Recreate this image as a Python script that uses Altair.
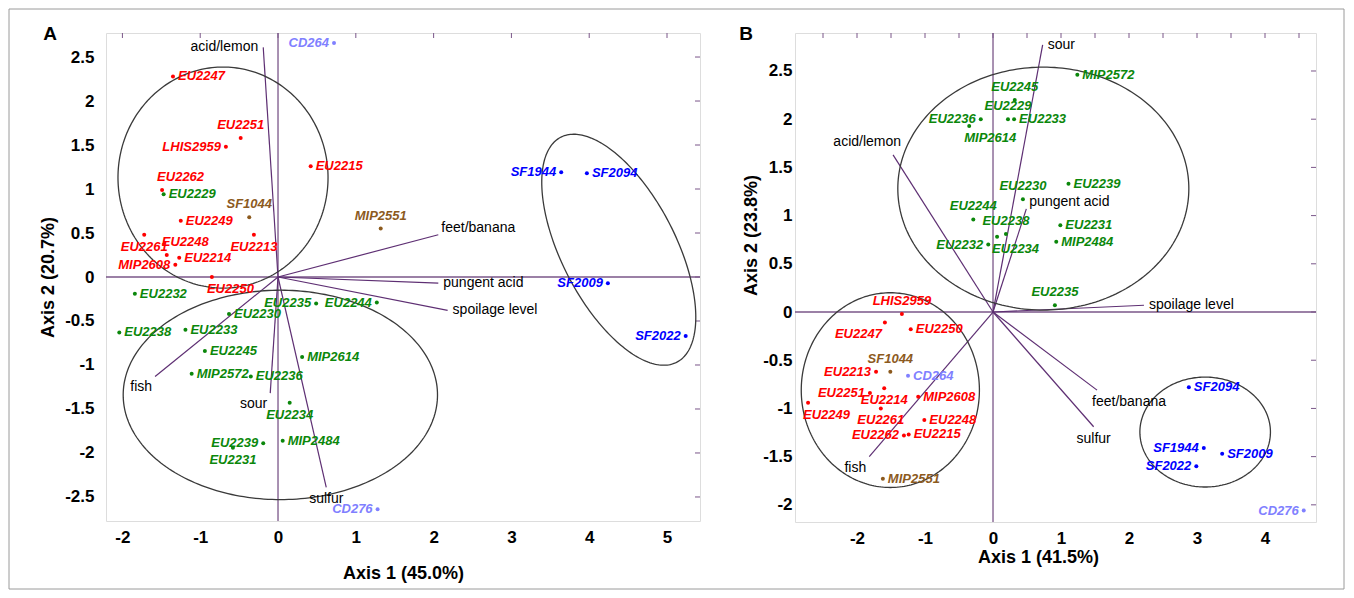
import altair as alt
import pandas as pd
import numpy as np

# ---------------- Panel A data ----------------
a_names = ["EU2247", "EU2251", "LHIS2959", "EU2262", "EU2229", "SF1044", "EU2249", "EU2261",
           "EU2213", "EU2248", "EU2214", "MIP2608", "EU2250", "EU2215", "CD264", "MIP2551",
           "SF1944", "SF2094", "SF2009", "SF2022", "CD276", "EU2232", "EU2238", "EU2233",
           "EU2230", "EU2245", "MIP2572", "EU2236", "EU2234", "EU2239", "EU2231", "MIP2484",
           "EU2235", "EU2244", "MIP2614"]
a_x = [-1.35, -0.48, -0.67, -1.49, -1.47, -0.37, -1.25, -1.72,
       -0.31, -1.43, -1.27, -1.32, -0.85, 0.42, 0.72, 1.32,
       3.64, 3.97, 4.24, 5.24, 1.28, -1.84, -2.04, -1.19,
       -0.63, -0.94, -1.11, -0.35, 0.15, -0.19, -0.58, 0.06,
       0.49, 1.27, 0.31]
a_y = [2.28, 1.58, 1.48, 0.99, 0.94, 0.68, 0.64, 0.48,
       0.48, 0.25, 0.22, 0.14, 0.00, 1.26, 2.66, 0.55,
       1.19, 1.18, -0.07, -0.67, -2.64, -0.19, -0.63, -0.60,
       -0.42, -0.84, -1.10, -1.13, -1.43, -1.89, -1.94, -1.86,
       -0.30, -0.29, -0.91]
a_grp = ["red", "red", "red", "red", "green", "brown", "red", "red",
         "red", "red", "red", "red", "red", "red", "lblue", "brown",
         "blue", "blue", "blue", "blue", "lblue", "green", "green", "green",
         "green", "green", "green", "green", "green", "green", "green", "green",
         "green", "green", "green"]
a_pos = ["r", "a", "l", "ar", "r", "a", "r", "b",
         "b", "ar", "r", "l", "br", "r", "l", "a",
         "l", "r", "l", "l", "l", "r", "r", "r",
         "r", "r", "r", "r", "b", "l", "b", "r",
         "l", "l", "r"]

a_vec_names = ["acid/lemon", "feet/banana", "pungent acid", "spoilage level", "fish", "sour", "sulfur"]
a_vec_x = [-0.19, 2.06, 2.06, 2.18, -1.58, -0.10, 0.62]
a_vec_y = [2.61, 0.48, -0.07, -0.38, -1.13, -1.32, -2.39]
a_vec_pos = ["l", "ru", "r", "r", "bl", "bl", "b"]

# ellipses: centre x, centre y, var x, var y, cov xy (data units)
a_ell = [(-0.707, 1.13, 1.35 ** 2, 1.256 ** 2, 0.0),
         (0.03, -1.34, 2.02 ** 2, 1.19 ** 2, 0.0),
         (4.38, 0.31, 0.980, 1.723, -0.759)]

a_xticks = [-2, -1, 0, 1, 2, 3, 4, 5]
a_yticks = [-2.5, -2, -1.5, -1, -0.5, 0, 0.5, 1, 1.5, 2, 2.5]

# ---------------- Panel B data ----------------
b_names = ["EU2245", "EU2236", "EU2229", "EU2233", "MIP2614", "MIP2572", "EU2239", "EU2230",
           "EU2231", "MIP2484", "EU2244", "EU2238", "EU2234", "EU2232", "EU2235", "LHIS2959",
           "EU2247", "EU2250", "SF1044", "EU2213", "CD264", "EU2251", "EU2214", "MIP2608",
           "EU2249", "EU2261", "EU2248", "EU2262", "EU2215", "MIP2551", "SF2094", "SF1944",
           "SF2009", "SF2022", "CD276"]
b_x = [0.32, -0.18, 0.22, 0.31, -0.35, 1.24, 1.11, 0.44,
       0.99, 0.93, -0.29, 0.19, 0.06, -0.07, 0.91, -1.34,
       -1.59, -1.21, -1.51, -1.72, -1.25, -1.81, -1.60, -1.10,
       -2.72, -1.65, -1.01, -1.31, -1.24, -1.62, 2.88, 3.10,
       3.37, 2.99, 4.57]
b_y = [2.20, 2.00, 2.00, 2.00, 1.93, 2.46, 1.33, 1.17,
       0.90, 0.73, 0.96, 0.81, 0.78, 0.70, 0.07, -0.02,
       -0.11, -0.18, -0.62, -0.62, -0.66, -0.84, -0.79, -0.88,
       -0.94, -1.00, -1.12, -1.28, -1.27, -1.73, -0.78, -1.41,
       -1.47, -1.60, -2.06]
b_grp = ["green"] * 15 + ["red", "red", "red", "brown", "red", "lblue", "red", "red", "red",
                          "red", "red", "red", "red", "red", "brown", "blue", "blue",
                          "blue", "blue", "lblue"]
b_pos = ["a", "l", "a", "r", "br", "r", "r", "a",
         "r", "r", "a", "a", "br", "l", "a", "a",
         "bl", "r", "a", "l", "r", "l", "b", "r",
         "br", "b", "r", "l", "r", "r", "r", "l",
         "r", "l", "l"]

b_vec_names = ["sour", "acid/lemon", "pungent acid", "spoilage level", "feet/banana", "sulfur", "fish"]
b_vec_x = [0.73, -1.47, 0.49, 2.22, 1.53, 1.48, -1.82]
b_vec_y = [2.77, 1.63, 1.07, 0.07, -0.81, -1.19, -1.50]
b_vec_pos = ["r", "al", "ru", "r", "br", "b", "bl"]

b_ell = [(0.74, 1.28, 2.14 ** 2, 1.26 ** 2, 0.0),
         (-1.51, -0.81, 1.31 ** 2, 1.01 ** 2, 0.0),
         (3.12, -1.245, 0.96 ** 2, 0.57 ** 2, 0.0)]

b_xticks = [-2, -1, 0, 1, 2, 3, 4]
b_yticks = [-2, -1.5, -1, -0.5, 0, 0.5, 1, 1.5, 2, 2.5]
b_top_ticks = [-2.5, -2, -1.5, -1, -0.5, 0, 0.5, 1, 1.5, 2, 2.5, 3, 3.5, 4, 4.5]

# ---------------- styling ----------------
FONT = "Liberation Sans"
FRAME = "#7a5689"
VEC = "#5e2f73"
GROUPS = ["red", "green", "blue", "lblue", "brown"]
GCOLORS = ["#ff0000", "#0b870b", "#0000ff", "#8080ff", "#8c5a1e"]
color_scale = alt.Scale(domain=GROUPS, range=GCOLORS)

PLACE = {
    "r": ("left", 5, 0),
    "l": ("right", -5, 0),
    "a": ("center", 0, -13),
    "b": ("center", 0, 12),
    "ar": ("left", -5, -13),
    "br": ("left", -5, 12),
    "bl": ("right", -3, 11),
    "al": ("right", 8, -13),
    "ru": ("left", 3, -7),
}


def ellipse_df(params):
    rows = []
    t = np.linspace(0, 2 * np.pi, 241)
    for i, (cx, cy, sxx, syy, sxy) in enumerate(params):
        L = np.linalg.cholesky(np.array([[sxx, sxy], [sxy, syy]]))
        pts = L @ np.vstack([np.cos(t), np.sin(t)])
        for k in range(len(t)):
            rows.append({"eid": i, "ord": k, "ex": cx + pts[0, k], "ey": cy + pts[1, k]})
    return pd.DataFrame(rows)


def panel(names, xs, ys, grp, pos, vnames, vx, vy, vpos, ells, xdom, ydom,
          xticks, yticks, top_ticks, right_ticks, W, H, xtitle, ytitle,
          xaxis_extra, yaxis_extra, letter, letter_x, border=False):
    xs_ = alt.Scale(domain=xdom, nice=False, zero=False)
    ys_ = alt.Scale(domain=ydom, nice=False, zero=False)
    common = dict(labelFont=FONT, labelFontSize=17, labelFontWeight="bold", labelColor="black",
                  titleFont=FONT, titleFontSize=18, titleFontWeight="bold", titleColor="black",
                  ticks=False, domain=False, grid=False, labelExpr="toString(datum.value)")
    xaxis = alt.Axis(values=xticks, title=xtitle, **common, **xaxis_extra)
    yaxis = alt.Axis(values=yticks, title=ytitle, **common, **yaxis_extra)

    def X(f):
        return alt.X(f, type="quantitative", scale=xs_, axis=xaxis)

    def Y(f):
        return alt.Y(f, type="quantitative", scale=ys_, axis=yaxis)

    pts = pd.DataFrame({"name": names, "x": xs, "y": ys, "grp": grp, "pos": pos})
    vec = pd.DataFrame({"name": vnames, "vx": vx, "vy": vy, "ox": 0.0, "oy": 0.0, "pos": vpos})
    eld = ellipse_df(ells)
    zero = pd.DataFrame({"z": [0.0]})

    layers = []
    layers.append(alt.Chart(zero).mark_rule(color=FRAME, strokeWidth=1.3).encode(x=X("z")))
    layers.append(alt.Chart(zero).mark_rule(color=FRAME, strokeWidth=1.3).encode(y=Y("z")))
    layers.append(alt.Chart(pd.DataFrame({"t": top_ticks})).mark_rule(color=FRAME, strokeWidth=1)
                  .encode(x=X("t"), y=alt.value(0), y2=alt.value(5)))
    layers.append(alt.Chart(pd.DataFrame({"t": right_ticks})).mark_rule(color=FRAME, strokeWidth=1)
                  .encode(y=Y("t"), x=alt.value(W - 5), x2=alt.value(W)))
    layers.append(alt.Chart(vec).mark_rule(color=VEC, strokeWidth=1.2)
                  .encode(x=X("ox"), y=Y("oy"), x2="vx:Q", y2="vy:Q"))
    layers.append(alt.Chart(eld).mark_line(color="#3a3a3a", strokeWidth=1.3)
                  .encode(x=X("ex"), y=Y("ey"), detail="eid:N", order="ord:Q"))
    layers.append(alt.Chart(pts).mark_circle(size=16, opacity=1)
                  .encode(x=X("x"), y=Y("y"),
                          color=alt.Color("grp:N", scale=color_scale, legend=None)))
    for code, (al, dx, dy) in PLACE.items():
        if code in pos:
            layers.append(alt.Chart(pts).transform_filter(alt.datum.pos == code)
                          .mark_text(align=al, baseline="middle", dx=dx, dy=dy, font=FONT,
                                     fontSize=13, fontStyle="italic", fontWeight="bold")
                          .encode(x=X("x"), y=Y("y"), text="name:N",
                                  color=alt.Color("grp:N", scale=color_scale, legend=None)))
        if code in vpos:
            layers.append(alt.Chart(vec).transform_filter(alt.datum.pos == code)
                          .mark_text(align=al, baseline="middle", dx=dx, dy=dy, font=FONT,
                                     fontSize=14, color="black")
                          .encode(x=X("vx"), y=Y("vy"), text="name:N"))
    one = pd.DataFrame({"t": [letter]})
    layers.append(alt.Chart(one).mark_text(font=FONT, fontSize=19, fontWeight="bold", color="black",
                                           align="center", baseline="middle")
                  .encode(x=alt.value(letter_x), y=alt.value(1), text="t:N"))
    if border:
        layers.append(alt.Chart(one).mark_rect(fill=None, stroke="#9a9a9a", strokeWidth=1)
                      .encode(x=alt.value(-97), x2=alt.value(1238), y=alt.value(-24), y2=alt.value(556)))
    return alt.layer(*layers).properties(width=W, height=H)


A = panel(a_names, a_x, a_y, a_grp, a_pos, a_vec_names, a_vec_x, a_vec_y, a_vec_pos, a_ell,
          [-2.211, 5.424], [-2.773, 2.773], a_xticks, a_yticks, a_xticks, a_yticks, 594, 488,
          "Axis 1 (45.0%)", "Axis 2 (20.7%)",
          dict(labelPadding=8, titlePadding=19), dict(labelPadding=12, titlePadding=7),
          "A", -56, border=True)

B = panel(b_names, b_x, b_y, b_grp, b_pos, b_vec_names, b_vec_x, b_vec_y, b_vec_pos, b_ell,
          [-2.912, 4.75], [-2.178, 2.894], b_xticks, b_yticks, b_top_ticks, b_yticks, 521, 489,
          "Axis 1 (41.5%)", "Axis 2 (23.8%)",
          dict(labelPadding=8, titlePadding=2, titleX=243), dict(labelPadding=3, titlePadding=2, titleY=202),
          "B", -49)

chart = alt.hconcat(A, B, spacing=95, bounds="flush").properties(padding=0).configure_view(
    stroke=FRAME, strokeWidth=1.5
).configure(background="white")

chart.save("out.html", embed_options={"renderer": "svg", "actions": False})
